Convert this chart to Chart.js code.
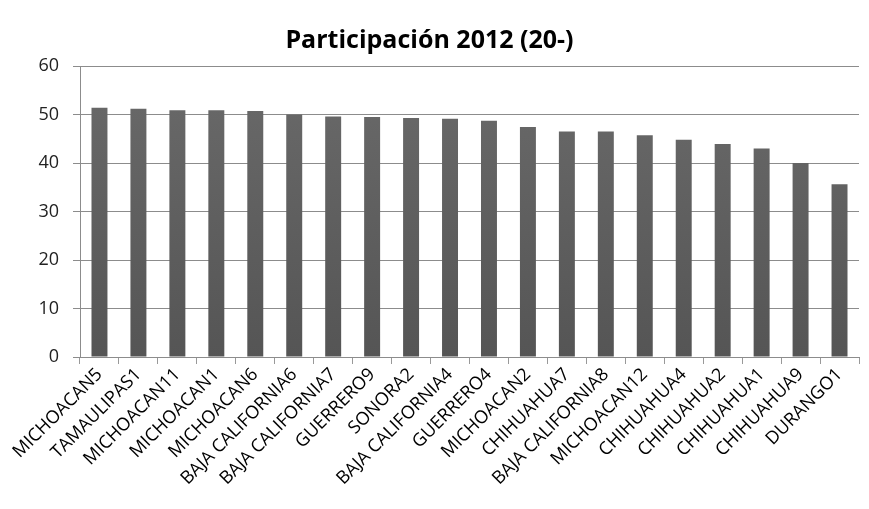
<!DOCTYPE html>
<html>
<head>
<meta charset="utf-8">
<script src="https://cdn.jsdelivr.net/npm/chart.js@4.4.0/dist/chart.umd.min.js"></script>
<style>
    html, body { margin: 0; padding: 0; background: #fff; }
    #wrap { width: 869px; height: 509px; }
</style>
</head>
<body>
<div id="wrap"><canvas id="chart" width="869" height="509"></canvas></div>
<script>
// data
const categories = [
    'MICHOACAN5', 'TAMAULIPAS1', 'MICHOACAN11', 'MICHOACAN1', 'MICHOACAN6',
    'BAJA CALIFORNIA6', 'BAJA CALIFORNIA7', 'GUERRERO9', 'SONORA2', 'BAJA CALIFORNIA4',
    'GUERRERO4', 'MICHOACAN2', 'CHIHUAHUA7', 'BAJA CALIFORNIA8', 'MICHOACAN12',
    'CHIHUAHUA4', 'CHIHUAHUA2', 'CHIHUAHUA1', 'CHIHUAHUA9', 'DURANGO1'
];
const participacion = [
    51.4, 51.2, 50.9, 50.9, 50.7,
    50.0, 49.6, 49.5, 49.3, 49.1,
    48.7, 47.4, 46.5, 46.5, 45.7,
    44.8, 43.9, 43.0, 40.0, 35.6
];
const yTicks = [0, 10, 20, 30, 40, 50, 60];

const FONT = "'Open Sans', 'Liberation Sans', sans-serif";

// darker at the bottom, like the original bars
function barFill(context) {
    const chart = context.chart;
    const area = chart.chartArea;
    if (!area) return '#626262';
    const g = chart.ctx.createLinearGradient(0, area.top, 0, area.bottom);
    g.addColorStop(0, '#6a6a6a');
    g.addColorStop(1, '#555555');
    return g;
}

new Chart(document.getElementById('chart'), {
    type: 'bar',
    data: {
        labels: categories,
        datasets: [{
            label: 'Participación 2012 (20-)',
            data: participacion,
            backgroundColor: barFill,
            borderWidth: 0,
            categoryPercentage: 1.0,
            barPercentage: 0.41
        }]
    },
    options: {
        responsive: false,
        animation: false,
        layout: {
            padding: { top: 0, right: 10, bottom: 0, left: 0 }
        },
        plugins: {
            legend: { display: false },
            tooltip: { enabled: false },
            title: {
                display: true,
                text: 'Participación 2012 (20-)',
                color: '#000',
                font: { family: FONT, size: 25, weight: 'bold' },
                padding: { top: 26, bottom: 10 }
            }
        },
        scales: {
            x: {
                grid: {
                    display: true,
                    offset: true,
                    drawOnChartArea: false,
                    drawTicks: true,
                    tickLength: 7,
                    color: '#999'
                },
                border: { display: true, color: '#8c8c8c', width: 1 },
                ticks: {
                    autoSkip: false,
                    minRotation: 45,
                    maxRotation: 45,
                    color: '#000',
                    padding: 0,
                    font: { family: FONT, size: 18 }
                },
                afterFit: function(scale) { scale.height = 152; }
            },
            y: {
                min: 0,
                max: 60,
                afterBuildTicks: function(scale) {
                    scale.ticks = yTicks.map(v => ({ value: v }));
                },
                grid: {
                    color: '#8c8c8c',
                    drawTicks: true,
                    tickLength: 7
                },
                border: { display: true, color: '#8c8c8c', width: 1 },
                ticks: {
                    color: '#222',
                    padding: 14,
                    font: { family: FONT, size: 18 }
                },
                afterFit: function(scale) { scale.width = 80; }
            }
        }
    }
});
</script>
</body>
</html>
